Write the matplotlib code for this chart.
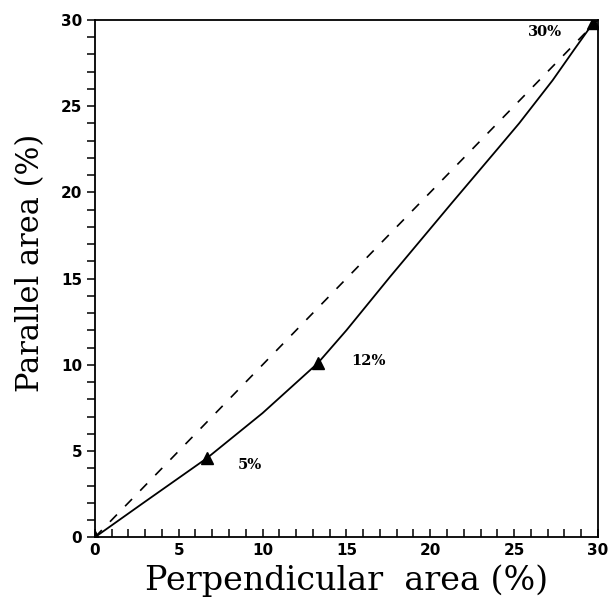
import matplotlib
matplotlib.use("Agg")
import matplotlib.pyplot as plt
from matplotlib.ticker import MultipleLocator

# measured curve: perpendicular vs parallel area (%)
perp = [0, 2.9, 6.7, 10.0, 13.3, 15.0, 17.6, 21.3, 24.0, 25.3, 27.3, 28.6, 29.7]
para = [0, 2.0, 4.6, 7.2, 10.1, 12.0, 15.1, 19.4, 22.5, 24.0, 26.5, 28.3, 29.8]

# marked points and their labels
mark_x = [0, 6.7, 13.3, 29.7]
mark_y = [0, 4.6, 10.1, 29.8]
lab_text = ["5%", "12%", "30%"]
lab_x = [8.5, 15.3, 25.8]
lab_y = [4.2, 10.2, 29.3]

# identity reference line
ref = [0, 30]

fig = plt.figure(figsize=(6.12, 6.03), dpi=100)
ax = fig.add_axes([0.155, 0.109, 0.822, 0.858])

ax.plot(ref, ref, color="black", lw=1.2, dashes=(6, 7))
ax.plot(perp, para, color="black", lw=1.3)
ax.plot(mark_x, mark_y, ls="none", marker="^", ms=9, color="black")

for t, x, y in zip(lab_text, lab_x, lab_y):
    ax.text(x, y, t, family="DejaVu Serif", fontsize=10.5, fontweight="bold",
            ha="left", va="center")

ax.set_xlim(0, 30)
ax.set_ylim(0, 30)
ax.xaxis.set_major_locator(MultipleLocator(5))
ax.xaxis.set_minor_locator(MultipleLocator(1))
ax.yaxis.set_major_locator(MultipleLocator(5))
ax.yaxis.set_minor_locator(MultipleLocator(1))
ax.tick_params(axis="x", which="both", direction="in", length=6, width=1.1,
               labelsize=11, pad=4)
ax.tick_params(axis="y", which="both", direction="out", length=6, width=1.1,
               labelsize=11, pad=3)
for lbl in ax.get_xticklabels() + ax.get_yticklabels():
    lbl.set_fontweight("bold")
for s in ax.spines.values():
    s.set_linewidth(1.3)

ax.set_xlabel("Perpendicular  area (%)", family="DejaVu Serif", fontsize=24, labelpad=5)
ax.set_ylabel("Parallel area (%)", family="DejaVu Serif", fontsize=22)
ax.yaxis.set_label_coords(-0.098, 0.53)

fig.savefig("out.png", dpi=100, facecolor="white")
